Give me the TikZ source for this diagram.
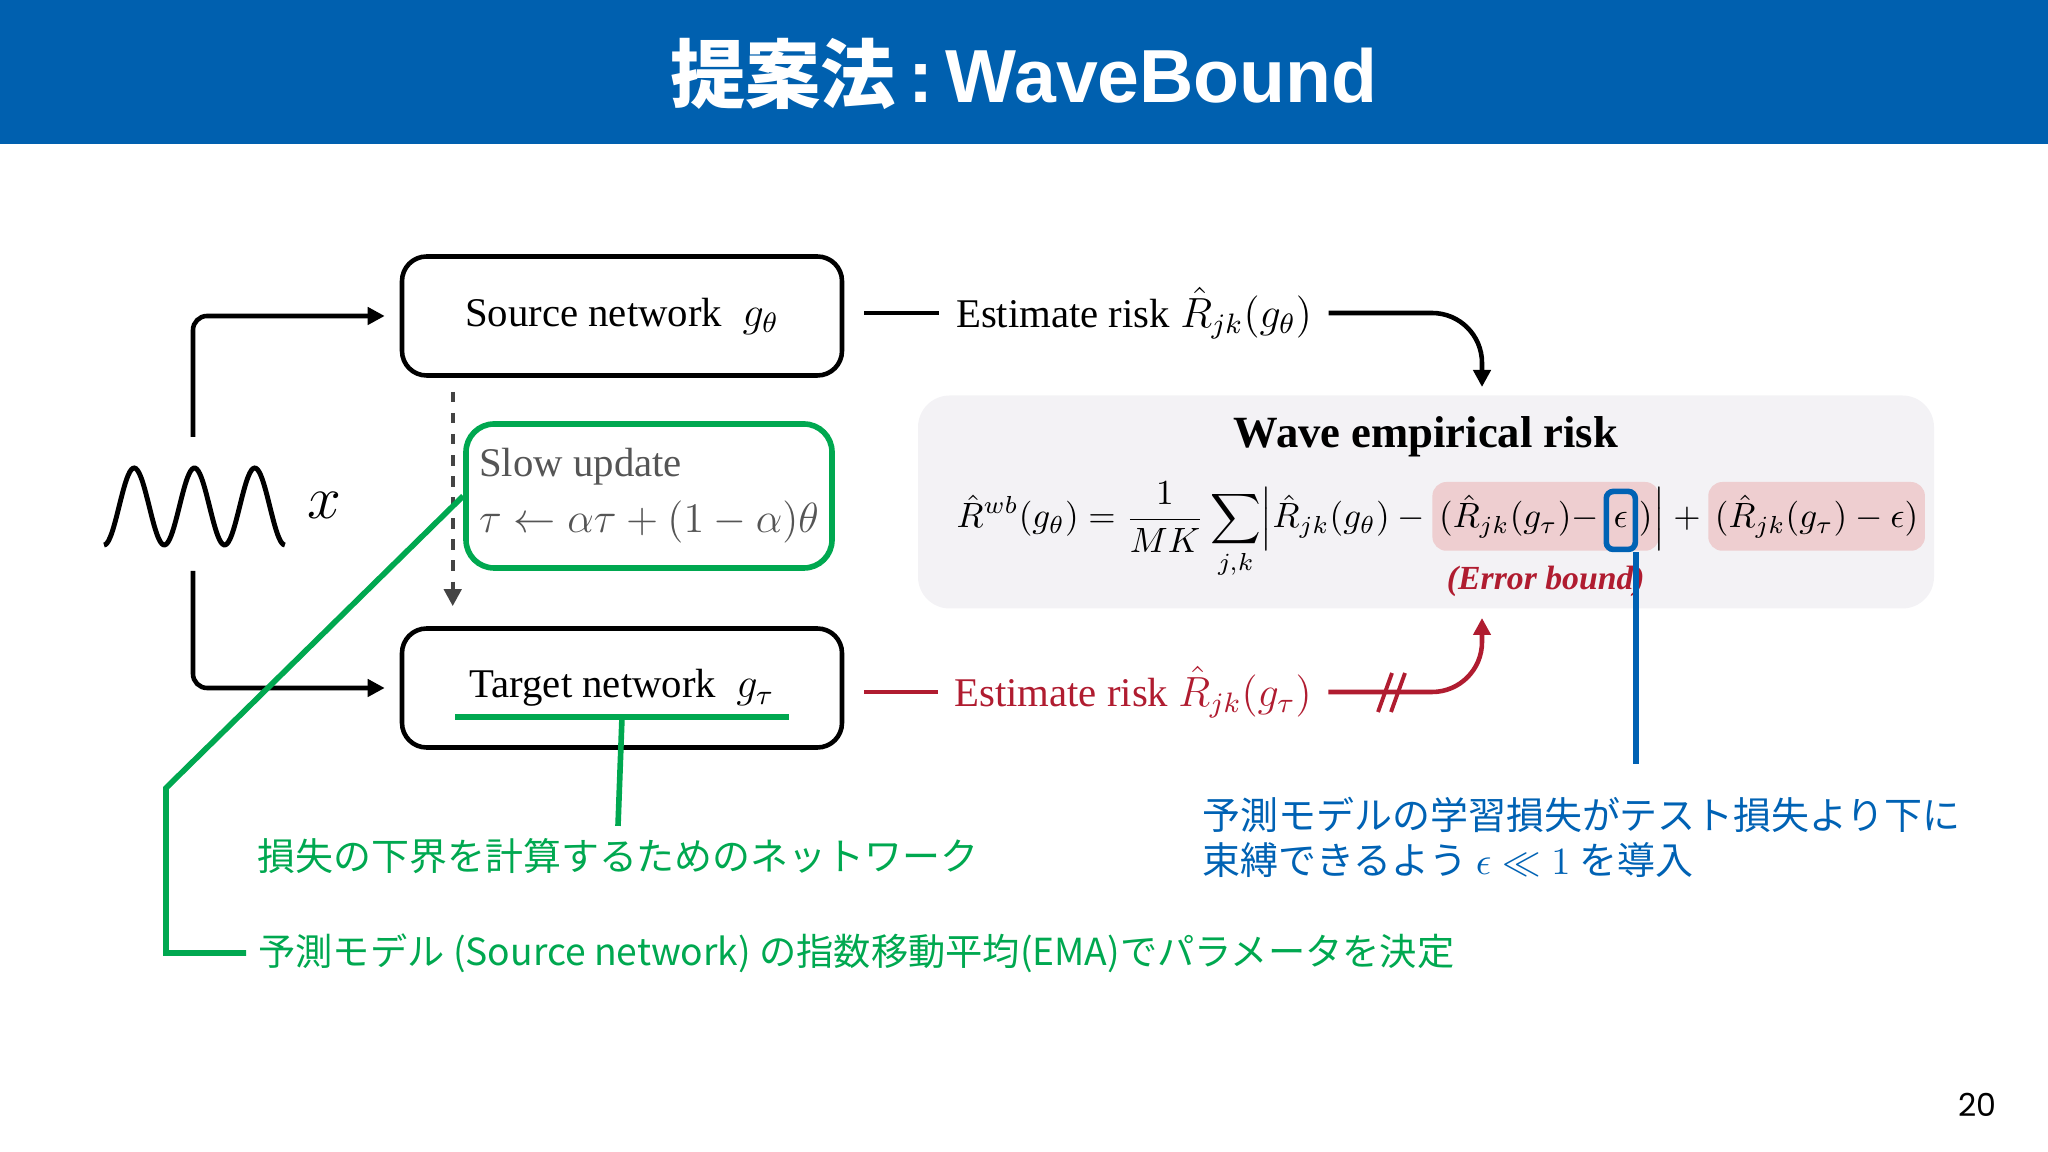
\documentclass[tikz,border=0pt]{standalone}
\usepackage{amsmath}
\usepackage{fontspec}
\setmainfont{Liberation Serif}
\newfontfamily\jpfont{Noto Sans CJK JP}
\newfontfamily\arialfont{Liberation Sans}
\newfontfamily\pgfont{Poppins}
\usetikzlibrary{positioning,arrows.meta,fit,backgrounds}

\definecolor{hdrblue}{RGB}{0,96,175}
\definecolor{notegreen}{RGB}{0,168,80}
\definecolor{noteblue}{RGB}{0,98,180}
\definecolor{riskred}{RGB}{176,28,48}
\definecolor{hlpink}{RGB}{238,206,208}
\definecolor{boxgray}{RGB}{243,242,245}
\definecolor{slowgray}{RGB}{85,85,85}

\newcommand\dsz{\fontsize{11.6}{14}\selectfont}
\newcommand\fsz{\fontsize{10.1}{12}\selectfont}
\newcommand\jsz{\fontsize{10.8}{12.8}\selectfont}

\begin{document}
\begin{tikzpicture}[x=0.1mm,y=-0.1mm,
    netbox/.style={draw,line width=1.3pt,rounded corners=7pt,minimum width=44mm,minimum height=11.9mm,font=\dsz},
    est/.style={font=\dsz,inner xsep=1.6mm},
    tip/.style={-{Triangle[length=1.7mm,width=1.7mm]}},
    fpart/.style={inner sep=0pt,anchor=base west,font=\fsz},
    jpnote/.style={font=\jpfont\jsz},
    grnline/.style={notegreen,line width=1.6pt}]
  \useasboundingbox (0,0) rectangle (2048,1152);
  % header
  \fill[hdrblue] (0,0) rectangle (2048,144);
  \node[text=white,font=\fontsize{21.4}{24}\selectfont\bfseries] (title) at (1024,74)
    {{\jpfont 提案法}\,{\arialfont :}\,{\arialfont WaveBound}};
  \node[font=\pgfont\fontsize{9}{10}\selectfont] (pgnum) at (1977,1105) {20};

  % networks
  \node[netbox] (src) at (622,316) {Source network \ $g_\theta$};
  \node[netbox] (tgt) at (622,688) {Target network \ $g_\tau$};
  \node[draw=notegreen,line width=1.6pt,rounded corners=8pt,minimum width=36.6mm,minimum height=14.4mm,
        text=slowgray,align=left,font=\dsz] (slow) at (649,496)
    {Slow update\\[2pt]$\tau \leftarrow \alpha\tau + (1-\alpha)\theta$};
  \draw[dashed,line width=1.2pt,slowgray!80!black,tip] ([xshift=5.3mm,yshift=-1.4mm]src.south west)
    -- ([xshift=5.3mm,yshift=2mm]tgt.north west);

  % input wave
  \draw[line width=1.4pt] plot[domain=0:3,samples=120,smooth] ({104+\x*60.3},{545-77*(1-cos(\x*360))/2});
  \node[font=\fontsize{17}{20}\selectfont] (xin) at (324,505) {$x$};
  \coordinate (wtop) at (193,437);
  \coordinate (wbot) at (193,571);
  \draw[line width=1.3pt,rounded corners=4pt,tip] (wtop) |- ([xshift=-1.5mm]src.west);
  \draw[line width=1.3pt,rounded corners=4pt,tip] (wbot) |- ([xshift=-1.5mm]tgt.west);

  % risk box
  \begin{scope}[on background layer]
    \node[fill=boxgray,rounded corners=9pt,minimum width=101.6mm,minimum height=21.3mm] (risk) at (1426,502) {};
  \end{scope}
  \node[font=\fontsize{12.7}{15}\selectfont\bfseries] (wer) at (1426,437) {Wave empirical risk};
  \node[fpart] (f1) at (956,528) {$\displaystyle \hat{R}^{wb}(g_\theta) = \frac{1}{MK}\sum_{j,k}\Bigl|\hat{R}_{jk}(g_\theta) - {}$};
  \node[fpart] (f2) at ([xshift=0.5mm]f1.base east) {$(\hat{R}_{jk}(g_\tau) -$};
  \node[fpart,draw=noteblue,line width=1.6pt,rounded corners=2pt,minimum width=2.9mm,minimum height=5.8mm]
    (eps) at ([xshift=0.4mm]f2.base east) {$\epsilon$};
  \node[fpart] (f3) at (eps.base east) {$)$};
  \node[fpart] (f4) at (f3.base east) {$\Bigr| + {}$};
  \node[fpart] (f5) at ([xshift=0.5mm]f4.base east) {$(\hat{R}_{jk}(g_\tau) - \epsilon)$};
  \begin{scope}[on background layer]
    \node[fill=hlpink,rounded corners=4pt,inner xsep=0.6mm,inner ysep=1.2mm,fit=(f2)(f3)] (hl1) {};
    \node[fill=hlpink,rounded corners=4pt,inner xsep=0.6mm,inner ysep=1.2mm,fit=(f5)] (hl2) {};
  \end{scope}
  \node[below=0.2mm of hl1,text=riskred,font=\fontsize{9.6}{11}\selectfont\bfseries\itshape] (errb) {(Error bound)};

  % estimate risks
  \node[est] (est1) at (1134,313) {Estimate risk $\hat{R}_{jk}(g_\theta)$};
  \node[est,text=riskred] (est2) at (1133,692) {Estimate risk $\hat{R}_{jk}(g_\tau)$};
  \coordinate (intop) at (1482,387);
  \coordinate (inbot) at (1482,618);
  \draw[line width=1.3pt] ([xshift=2mm]src.east |- est1.west) -- (est1.west);
  \draw[line width=1.3pt,rounded corners=5mm,tip] (est1.east) -| (intop);
  \draw[riskred,line width=1.3pt] ([xshift=2mm]tgt.east |- est2.west) -- (est2.west);
  \draw[riskred,line width=1.3pt,rounded corners=5mm,tip] (est2.east) -| (inbot);
  \draw[riskred,line width=1.1pt] (1378,712) -- (1392,673);
  \draw[riskred,line width=1.1pt] (1391,712) -- (1405,673);

  % notes
  \node[jpnote,text=notegreen] (note1) at (618,856) {損失の下界を計算するためのネットワーク};
  \node[jpnote,text=notegreen,anchor=west,font=\jpfont\fontsize{10.6}{12.6}\selectfont] (note2) at (246,953)
    {予測モデル (Source network) の指数移動平均(EMA)でパラメータを決定};
  \node[jpnote,text=noteblue,anchor=west,align=left] (note3) at (1190,837)
    {予測モデルの学習損失がテスト損失より下に\\束縛できるよう $\epsilon \ll 1$ を導入};
  \draw[grnline] ([xshift=-16.7mm,yshift=-2.9mm]tgt.center) -- ([xshift=16.7mm,yshift=-2.9mm]tgt.center);
  \draw[grnline] ([yshift=-2.9mm]tgt.center) -- (note1.north);
  \coordinate (gbend) at (166,788);
  \draw[grnline] (slow.west) -- (gbend) |- (note2.west);
  \coordinate (bend) at (1631,764);
  \draw[noteblue,line width=1.6pt] ([xshift=-0.2mm]eps.south east) -- ([xshift=-0.2mm]eps.south east |- bend);
\end{tikzpicture}
\end{document}
